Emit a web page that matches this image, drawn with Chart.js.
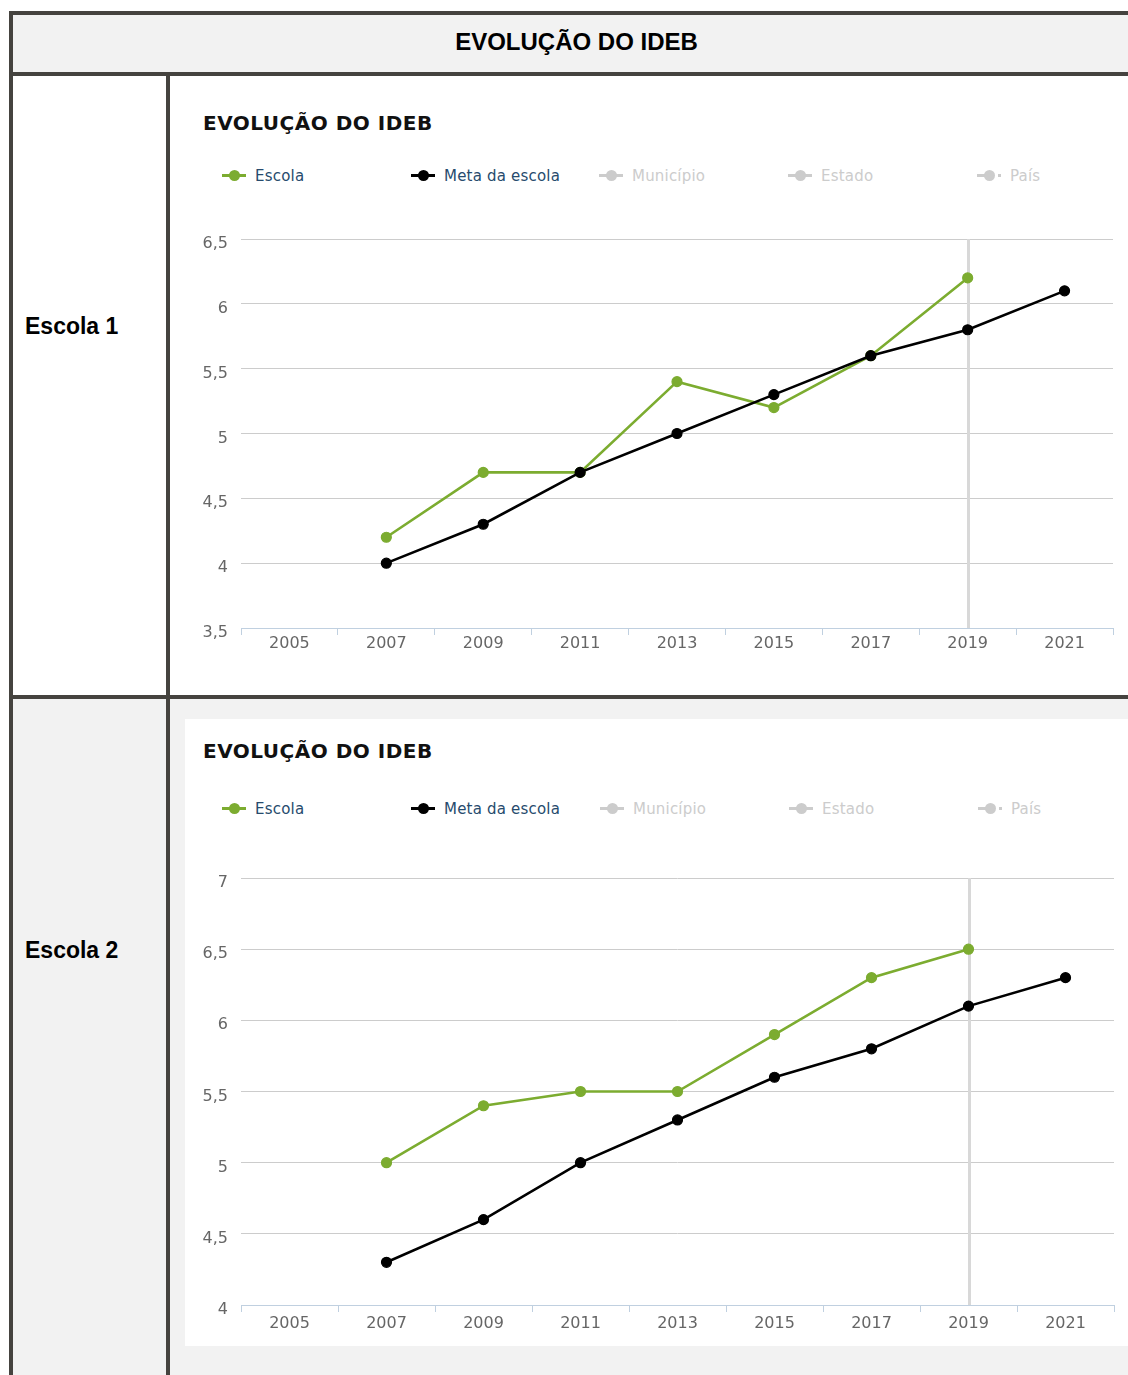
<!DOCTYPE html>
<html>
<head>
<meta charset="utf-8">
<script src="https://cdn.jsdelivr.net/npm/chart.js@4.4.1/dist/chart.umd.min.js"></script>
<style>
  html, body { margin: 0; padding: 0; background: #fff; }
  body { width: 1128px; height: 1375px; overflow: hidden; position: relative; }
  .abs { position: absolute; }
  .bar { position: absolute; background: #45433f; }
  .hdr { font-family: "Liberation Sans", Arial, sans-serif; font-weight: bold; color: #000; white-space: nowrap; }
  .ctitle { font-family: "DejaVu Sans", sans-serif; font-weight: bold; font-size: 20px; line-height: 24px; letter-spacing: 0.5px; color: #111; white-space: nowrap; }
  .leg { position: absolute; height: 18px; }
  .leg .ln { position: absolute; height: 3px; }
  .leg .dot { position: absolute; width: 11px; height: 11px; border-radius: 50%; }
  .leg .tx { position: absolute; font-family: "DejaVu Sans", sans-serif; font-size: 15px; line-height: 18px; white-space: nowrap; letter-spacing: 0.2px; }
  canvas { position: absolute; }
</style>
</head>
<body>
<script>
// ---------- data ----------
const years = ['2005', '2007', '2009', '2011', '2013', '2015', '2017', '2019', '2021'];
const escola1 = [null, 4.2, 4.7, 4.7, 5.4, 5.2, 5.6, 6.2, null];
const meta1   = [null, 4.0, 4.3, 4.7, 5.0, 5.3, 5.6, 5.8, 6.1];
const escola2 = [null, 5.0, 5.4, 5.5, 5.5, 5.9, 6.3, 6.5, null];
const meta2   = [null, 4.3, 4.6, 5.0, 5.3, 5.6, 5.8, 6.1, 6.3];
const yRange1 = [3.5, 6.5];
const yRange2 = [4, 7];
const yStep = 0.5;
const legendLabels = ['Escola', 'Meta da escola', 'Município', 'Estado', 'País'];
const legendActive = [true, true, false, false, false];
const highlightYear = '2019';
const pageTitle = 'EVOLUÇÃO DO IDEB';
const chartTitle = 'EVOLUÇÃO DO IDEB';
const rowLabels = ['Escola 1', 'Escola 2'];
</script>

<!-- table frame -->
<div class="abs" style="left:13px;top:15px;width:1115px;height:57px;background:#f2f2f2"></div>
<div class="abs" style="left:13px;top:699px;width:1115px;height:676px;background:#f2f2f2"></div>
<div class="abs" style="left:185px;top:719px;width:943px;height:627px;background:#fff"></div>

<div class="bar" style="left:9px;top:11px;width:4px;height:1364px"></div>
<div class="bar" style="left:9px;top:11px;width:1119px;height:4px"></div>
<div class="bar" style="left:9px;top:72px;width:1119px;height:4px"></div>
<div class="bar" style="left:9px;top:695px;width:1119px;height:4px"></div>
<div class="bar" style="left:166px;top:72px;width:4px;height:1303px"></div>

<div id="pageTitle" class="abs hdr" style="left:13px;top:30px;width:1127px;text-align:center;font-size:24px;line-height:24px"></div>
<div id="row1" class="abs hdr" style="left:25px;top:315px;font-size:23px;line-height:23px"></div>
<div id="row2" class="abs hdr" style="left:25px;top:939px;font-size:23px;line-height:23px"></div>

<div id="t1" class="abs ctitle" style="left:203px;top:111px"></div>
<div id="t2" class="abs ctitle" style="left:203px;top:739px"></div>
<div id="leg1"></div>
<div id="leg2"></div>

<canvas id="c1" width="958" height="470" style="left:170px;top:220px"></canvas>
<canvas id="c2" width="943" height="480" style="left:185px;top:860px"></canvas>

<script>
document.getElementById('pageTitle').textContent = pageTitle;
document.getElementById('row1').textContent = rowLabels[0];
document.getElementById('row2').textContent = rowLabels[1];
document.getElementById('t1').textContent = chartTitle;
document.getElementById('t2').textContent = chartTitle;

const GREEN = '#7cac30';
const BLACK = '#000000';
const HIDDEN = '#cccccc';
const seriesColors = [GREEN, BLACK, HIDDEN, HIDDEN, HIDDEN];

function buildLegend(containerId, centerY, xStarts) {
  const host = document.getElementById(containerId);
  legendLabels.forEach((lab, i) => {
    const col = seriesColors[i];
    const item = document.createElement('div');
    item.className = 'leg';
    item.style.left = xStarts[i] + 'px';
    item.style.top = (centerY - 9) + 'px';
    item.style.width = '185px';
    if (i === 4) {
      item.innerHTML =
        '<div class="ln" style="left:0;top:8px;width:12px;background:' + col + '"></div>' +
        '<div class="dot" style="left:7px;top:4px;background:' + col + '"></div>' +
        '<div class="ln" style="left:21px;top:8px;width:3px;background:' + col + '"></div>';
    } else {
      item.innerHTML =
        '<div class="ln" style="left:0;top:8px;width:24px;background:' + col + '"></div>' +
        '<div class="dot" style="left:7px;top:4px;background:' + col + '"></div>';
    }
    const tx = document.createElement('div');
    tx.className = 'tx';
    tx.style.left = '33px';
    tx.style.top = '1px';
    tx.style.color = legendActive[i] ? '#274b6d' : '#cccccc';
    tx.textContent = lab;
    item.appendChild(tx);
    host.appendChild(item);
  });
}
buildLegend('leg1', 175, [222, 411, 599, 788, 977]);
buildLegend('leg2', 808, [222, 411, 600, 789, 978]);

const plotLinePlugin = {
  id: 'plotLine',
  beforeDatasetsDraw(chart, args, opts) {
    const xs = chart.scales.x;
    const idx = chart.data.labels.indexOf(opts.label);
    if (idx < 0) return;
    const x = Math.round(xs.getPixelForValue(idx)) + 0.5;
    const ctx = chart.ctx;
    ctx.save();
    ctx.strokeStyle = opts.color;
    ctx.lineWidth = opts.width;
    ctx.beginPath();
    ctx.moveTo(x, chart.chartArea.top);
    ctx.lineTo(x, chart.chartArea.bottom);
    ctx.stroke();
    ctx.restore();
  }
};

function buildChart(id, escola, meta, yRange, yAxisWidth, xAxisHeight, padTop, padRight, xPad) {
  const ds = (label, data, color) => ({
    label: label,
    data: data,
    borderColor: color,
    backgroundColor: color,
    borderWidth: 2.6,
    pointRadius: 5,
    pointHoverRadius: 5,
    pointBorderWidth: 1.2,
    pointBorderColor: color,
    pointBackgroundColor: color,
    tension: 0,
    spanGaps: false,
    fill: false
  });
  return new Chart(document.getElementById(id), {
    type: 'line',
    data: {
      labels: years,
      datasets: [ds(legendLabels[1], meta, BLACK), ds(legendLabels[0], escola, GREEN)]
    },
    plugins: [plotLinePlugin],
    options: {
      responsive: false,
      animation: false,
      devicePixelRatio: 1,
      layout: { padding: { left: 0, right: padRight, top: padTop, bottom: 0 } },
      plugins: {
        legend: { display: false },
        title: { display: false },
        tooltip: { enabled: false },
        plotLine: { label: highlightYear, color: '#d8d8d8', width: 3 }
      },
      scales: {
        x: {
          type: 'category',
          offset: true,
          grid: {
            offset: true,
            drawOnChartArea: false,
            drawTicks: true,
            tickLength: 7,
            color: '#c0d0e0',
            lineWidth: 1
          },
          border: { display: true, color: '#c0d0e0', width: 1 },
          ticks: {
            color: '#666666',
            font: { family: 'DejaVu Sans', size: 16 },
            padding: xPad,
            maxRotation: 0,
            autoSkip: false
          },
          afterFit(scale) { scale.height = xAxisHeight; }
        },
        y: {
          min: yRange[0],
          max: yRange[1],
          grid: { color: '#cccccc', lineWidth: 1, drawTicks: false },
          border: { display: false },
          ticks: {
            stepSize: yStep,
            color: '#666666',
            font: { family: 'DejaVu Sans', size: 16 },
            padding: 13,
            labelOffset: 5,
            callback: (v) => String(v).replace('.', ',')
          },
          afterFit(scale) {
            scale.width = yAxisWidth;
            scale.paddingTop = 0;
            scale.paddingBottom = 0;
          }
        }
      }
    }
  });
}

buildChart('c1', escola1, meta1, yRange1, 71, 62, 19, 15, -1);
buildChart('c2', escola2, meta2, yRange2, 56, 35, 18, 14, 2);
</script>
</body>
</html>
